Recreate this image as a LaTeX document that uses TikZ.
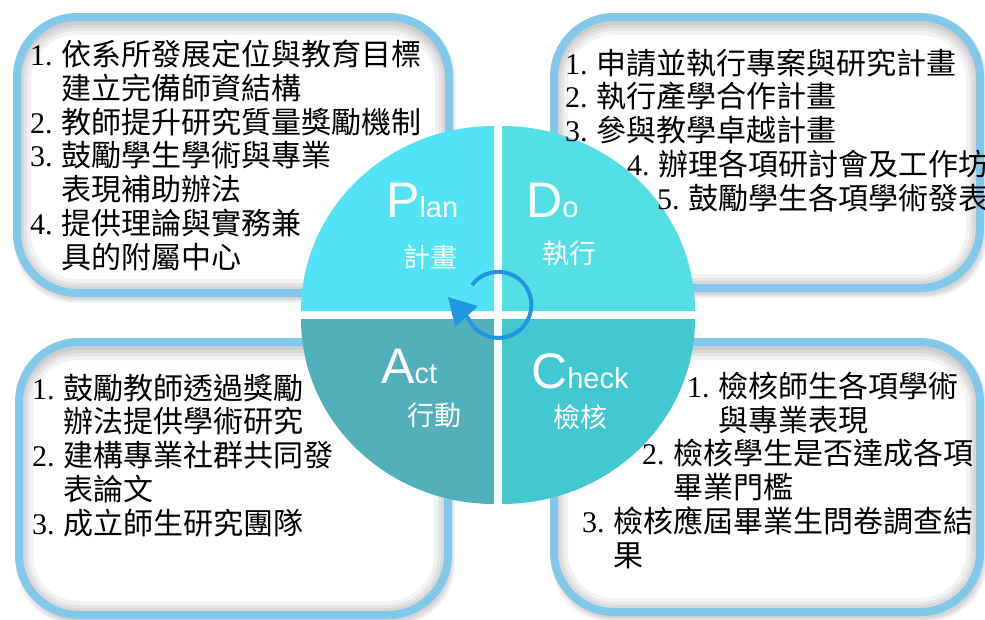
\documentclass[tikz,border=0pt]{standalone}
\usepackage{fontspec}
\usetikzlibrary{arrows.meta}
\setmainfont{Liberation Serif}
\newfontfamily\cjk{Noto Sans CJK TC}
\newfontfamily\lbl{Liberation Sans}
\definecolor{planclr}{RGB}{82,228,246}
\definecolor{doclr}{RGB}{84,222,230}
\definecolor{actclr}{RGB}{82,176,188}
\definecolor{checkclr}{RGB}{66,200,208}
\definecolor{arrclr}{RGB}{33,150,224}
\definecolor{boxclr}{RGB}{130,200,235}
\newcommand\itm[1]{\makebox[31pt][l]{\rmfamily #1}}

\begin{document}
\begin{tikzpicture}[yscale=-1,x=1pt,y=1pt,
    list/.style={anchor=base west,align=left,inner sep=0pt,font=\cjk\fontsize{30}{33.7}\selectfont},
    big/.style={anchor=base west,inner sep=0pt,text=white,font=\lbl},
    zh/.style={inner sep=0pt,text=white,font=\cjk\fontsize{27}{27}\selectfont}]
      \useasboundingbox (0,0) rectangle (985,619);
      \foreach \xa/\ya/\xb/\yb in {17/17/449/293,554/17/980/288,19/342/448/615,554/342/980/612} {
        \foreach \s in {1,...,5}
          \fill[black,opacity=.035,rounded corners=60pt] (\xa-\s+2,\ya-\s+5) rectangle (\xb+\s+2,\yb+\s+5);
        \fill[white,rounded corners=60pt] (\xa,\ya) rectangle (\xb,\yb);
        \begin{scope}
          \clip[rounded corners=60pt] (\xa,\ya) rectangle (\xb,\yb);
          \foreach \w in {8,14,20,28}
            \draw[black,opacity=.05,line width=\w pt,rounded corners=60pt] (\xa,\ya+4) rectangle (\xb,\yb);
        \end{scope}
        \draw[boxclr,line width=8pt,rounded corners=60pt] (\xa,\ya) rectangle (\xb,\yb);
      }
      \fill[planclr] (494,311) -- ++(-193,0) arc[start angle=180,end angle=270,x radius=193,y radius=185] -- cycle;
      \fill[doclr] (502,311) -- ++(0,-185) arc[start angle=270,end angle=360,x radius=193,y radius=185] -- cycle;
      \fill[checkclr] (502,319) -- ++(193,0) arc[start angle=0,end angle=90,x radius=193,y radius=185] -- cycle;
      \fill[actclr] (494,319) -- ++(0,185) arc[start angle=90,end angle=180,x radius=193,y radius=185] -- cycle;
      \coordinate (cyc) at (472,285);
      \coordinate (tip) at (448,297);
      \draw[arrclr,line width=4pt,-{Triangle[length=27pt,width=30pt]}] (cyc) arc[start angle=-143,end angle=155,radius=33] -- (tip);
      \node[big] (plan) at (386,217) {\fontsize{50}{50}\selectfont P\fontsize{29}{29}\selectfont lan};
      \node[zh] (planzh) at (430,257) {計畫};
      \node[big] (do) at (526,217) {\fontsize{50}{50}\selectfont D\fontsize{29}{29}\selectfont o};
      \node[zh] (dozh) at (569,253) {執行};
      \node[big] (act) at (381,383) {\fontsize{50}{50}\selectfont A\fontsize{29}{29}\selectfont ct};
      \node[zh] (actzh) at (434,415) {行動};
      \node[big] (check) at (531,388) {\fontsize{50}{50}\selectfont C\fontsize{29}{29}\selectfont heck};
      \node[zh] (checkzh) at (580,417) {檢核};
      \node[list] (plantxt) at (30,268) {\itm{1.}依系所發展定位與教育目標\\\itm{}建立完備師資結構\\\itm{2.}教師提升研究質量獎勵機制\\\itm{3.}鼓勵學生學術與專業\\\itm{}表現補助辦法\\\itm{4.}提供理論與實務兼\\\itm{}具的附屬中心};
      \node[list] (dotxt) at (565,209) {\itm{1.}申請並執行專案與研究計畫\\\itm{2.}執行產學合作計畫\\\itm{3.}參與教學卓越計畫\\\hspace*{62pt}\itm{4.}辦理各項研討會及工作坊\\\hspace*{92pt}\itm{5.}鼓勵學生各項學術發表};
      \node[list] (acttxt) at (32,534) {\itm{1.}鼓勵教師透過獎勵\\\itm{}辦法提供學術研究\\\itm{2.}建構專業社群共同發\\\itm{}表論文\\\itm{3.}成立師生研究團隊};
      \node[list] (chktxt) at (582,566) {\hspace*{105pt}\itm{1.}檢核師生各項學術\\\hspace*{105pt}\itm{}與專業表現\\\hspace*{60pt}\itm{2.}檢核學生是否達成各項\\\hspace*{60pt}\itm{}畢業門檻\\\itm{3.}檢核應屆畢業生問卷調查結\\\itm{}果};
    \end{tikzpicture}
\end{document}
